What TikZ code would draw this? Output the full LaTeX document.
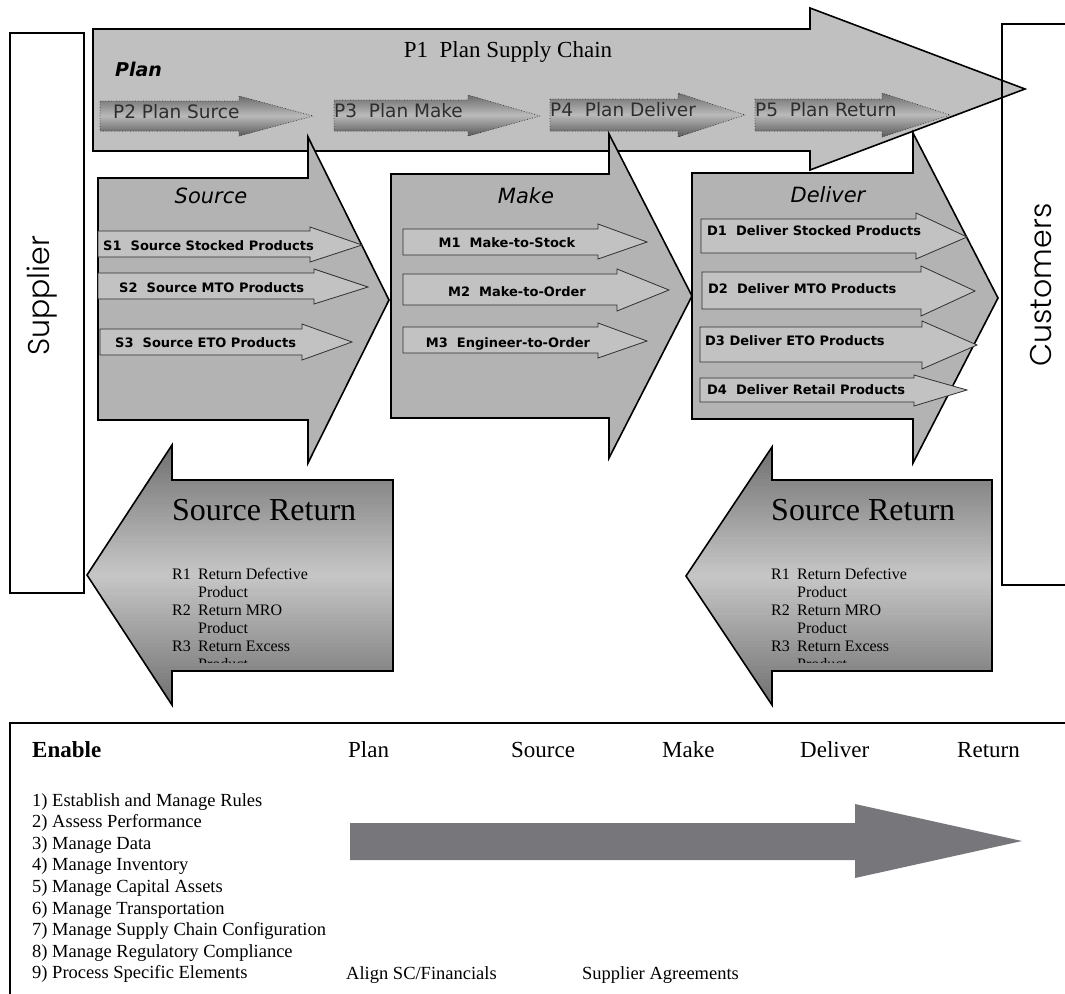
\documentclass[tikz,border=0pt]{standalone}
\usepackage{fontspec}
\setmainfont{Liberation Serif}
\newfontfamily\verd{DejaVu Sans}
\newfontfamily\geo{Poppins Light}

\definecolor{planfill}{HTML}{C0C0C0}
\definecolor{stagefill}{HTML}{B3B3B3}
\definecolor{subfill}{HTML}{C2C2C2}
\definecolor{subline}{HTML}{303030}
\definecolor{ptext}{HTML}{2E2E2E}
\definecolor{enablefill}{HTML}{77767B}
\colorlet{gtop}{black!50}
\colorlet{gmid}{black!22}
\colorlet{gbot}{black!50}

% right- or left-pointing block arrow:
% #1 style, #2 body start x, #3 body top, #4 body bottom,
% #5 head base x, #6 head top, #7 head bottom, #8 tip x, #9 tip y
\newcommand\blockarrow[9]{%
  \path[#1] (#2,#3) -- (#5,#3) -- (#5,#6) -- (#8,#9) -- (#5,#7)
    -- (#5,#4) -- (#2,#4) -- cycle;}

% vertical gtop -> gmid -> gbot gradient between two heights, in bands
\newcommand\bands[2]{%
  \pgfmathsetmacro\gstep{(#2-#1)/80}%
  \foreach \k in {0,...,79} {%
    \pgfmathtruncatemacro\gp{\k<40 ? (\k+0.5)/40*100 : (80-\k-0.5)/40*100}%
    \pgfmathsetmacro\ya{#1+\k*\gstep}%
    \pgfmathsetmacro\yb{#1+(\k+1)*\gstep+0.6}%
    \ifnum\k<40
      \fill[gmid!\gp!gtop] (0,\ya) rectangle (1065,\yb);
    \else
      \fill[gmid!\gp!gbot] (0,\ya) rectangle (1065,\yb);
    \fi}}

% block arrow filled with the band gradient, then outlined with style #1
\newcommand\gradarrow[9]{%
  \begin{scope}
    \blockarrow{clip}{#2}{#3}{#4}{#5}{#6}{#7}{#8}{#9}
    \bands{#6}{#7}
  \end{scope}
  \blockarrow{#1}{#2}{#3}{#4}{#5}{#6}{#7}{#8}{#9}}

\tikzset{
  bigarrow/.style={draw=black, line width=1.6, line join=miter},
  planarrow/.style={bigarrow, fill=planfill},
  stagearrow/.style={bigarrow, fill=stagefill},
  subarrow/.style={draw=subline, line width=0.8, fill=subfill},
  ministep/.style={draw=black!80, dotted, line width=0.7},
  framebox/.style={draw=black, line width=1.6},
  ptxt/.style={inner sep=0, anchor=base west, text=ptext,
    font=\verd\fontsize{18.5}{22}\selectfont},
  stagetitle/.style={inner sep=0, anchor=base,
    font=\verd\itshape\fontsize{21}{25}\selectfont},
  subtxt/.style={inner sep=0, font=\verd\bfseries\fontsize{13}{16}\selectfont},
  rettitle/.style={inner sep=0, anchor=base west,
    font=\fontsize{32}{38}\selectfont},
  rettxt/.style={inner sep=0, anchor=base west,
    font=\fontsize{16}{18}\selectfont},
  enhead/.style={inner sep=0, anchor=base west,
    font=\fontsize{23}{27}\selectfont},
  enitem/.style={inner sep=0, anchor=base west,
    font=\fontsize{18.5}{21}\selectfont},
  sidelabel/.style={inner sep=0, rotate=90,
    font=\geo\fontsize{30}{34}\selectfont},
}

\begin{document}
\begin{tikzpicture}[x=1pt, y=-1pt]
\useasboundingbox (0,0) rectangle (1065,993);

% Supplier box
\draw[framebox, fill=white] (10,33) rectangle (84,593);
\node[sidelabel] (supplier) at (42,296) {Supplier};

% P1 Plan Supply Chain
\blockarrow{planarrow}{93}{29}{151}{810}{8}{170}{1025}{89}
\node[inner sep=0, anchor=base, font=\fontsize{23}{27}\selectfont]
  (p1) at (508,57) {P1\ \ Plan Supply Chain};
\node[inner sep=0, anchor=base west,
  font=\verd\bfseries\itshape\fontsize{19}{23}\selectfont]
  (plan) at (115,76) {Plan};

% P2..P5 planning steps
\colorlet{gtop}{black!58}\colorlet{gmid}{black!27}\colorlet{gbot}{black!64}
\gradarrow{ministep}{100}{101}{131}{239}{96}{136}{313}{116}
\gradarrow{ministep}{334}{100}{131}{468}{95}{136}{540}{116}
\gradarrow{ministep}{550}{99}{131}{678}{93}{137}{745}{115}
\gradarrow{ministep}{755}{99}{131}{882}{93}{137}{950}{115}
\node[ptxt] (p2) at (113,118) {P2 Plan Surce};
\node[ptxt] (p3) at (334,117) {P3\ \ Plan Make};
\node[ptxt] (p4) at (550,116) {P4\ \ Plan Deliver};
\node[ptxt] (p5) at (755,116) {P5\ \ Plan Return};

% Customers box (drawn over the plan arrow)
\draw[framebox] (1070,24) -- (1002,24) -- (1002,585) -- (1070,585);
\node[sidelabel] (customers) at (1041,285) {Customers};

% Source / Make / Deliver stages
\blockarrow{stagearrow}{98}{178}{420}{308}{137}{463}{389}{300}
\blockarrow{stagearrow}{391}{174}{418}{609}{134}{458}{692}{296}
\blockarrow{stagearrow}{692}{173}{419}{913}{133}{463}{998}{298}
\node[stagetitle] (source) at (211,203) {Source};
\node[stagetitle] (make) at (526,203) {Make};
\node[stagetitle] (deliver) at (828,202) {Deliver};

% Source processes
\blockarrow{subarrow}{98}{231}{257}{310}{227}{262}{362}{245}
\blockarrow{subarrow}{98}{273}{299}{314}{269}{304}{368}{287}
\blockarrow{subarrow}{100}{329}{355}{302}{324}{360}{352}{342}
\node[subtxt, anchor=base west] (s1) at (103,250) {S1\ \ Source Stocked Products};
\node[subtxt, anchor=base west] (s2) at (119,292) {S2\ \ Source MTO Products};
\node[subtxt, anchor=base west] (s3) at (115,347) {S3\ \ Source ETO Products};

% Make processes
\blockarrow{subarrow}{403}{229}{255}{598}{224}{259}{647}{242}
\blockarrow{subarrow}{403}{274}{305}{617}{269}{311}{669}{290}
\blockarrow{subarrow}{403}{327}{353}{598}{323}{358}{647}{341}
\node[subtxt, anchor=base] (m1) at (507,247) {M1\ \ Make-to-Stock};
\node[subtxt, anchor=base] (m2) at (517,296) {M2\ \ Make-to-Order};
\node[subtxt, anchor=base] (m3) at (508,347) {M3\ \ Engineer-to-Order};

% Deliver processes
\blockarrow{subarrow}{701}{219}{253}{916}{213}{259}{967}{237}
\blockarrow{subarrow}{702}{272}{309}{921}{266}{316}{975}{291}
\blockarrow{subarrow}{700}{327}{362}{922}{321}{369}{977}{345}
\blockarrow{subarrow}{700}{378}{402}{914}{375}{406}{967}{390}
\node[subtxt, anchor=base west] (d1) at (707,235) {D1\ \ Deliver Stocked Products};
\node[subtxt, anchor=base west] (d2) at (708,293) {D2\ \ Deliver MTO Products};
\node[subtxt, anchor=base west] (d3) at (705,345) {D3 Deliver ETO Products};
\node[subtxt, anchor=base west] (d4) at (707,394) {D4\ \ Deliver Retail Products};

% Source Return arrows with their process lists
\colorlet{gtop}{black!56}\colorlet{gmid}{black!22}\colorlet{gbot}{black!56}
\gradarrow{bigarrow}{393}{480}{671}{172}{445}{705}{87}{575}
\gradarrow{bigarrow}{992}{480}{671}{772}{447}{705}{686}{576}
\foreach \side/\xl in {a/172, b/771} {
  \node[rettitle] (ret\side) at (\xl,520) {Source Return};
  \begin{scope}
    \clip (\xl-5,480) rectangle (\xl+220,662);
    \node[rettxt] (r1\side) at (\xl,579) {R1};
    \node[rettxt] (r1t\side) at (\xl+26,579) {Return Defective};
    \node[rettxt] (r1p\side) at (\xl+26,597) {Product};
    \node[rettxt] (r2\side) at (\xl,615) {R2};
    \node[rettxt] (r2t\side) at (\xl+26,615) {Return MRO};
    \node[rettxt] (r2p\side) at (\xl+26,633) {Product};
    \node[rettxt] (r3\side) at (\xl,651) {R3};
    \node[rettxt] (r3t\side) at (\xl+26,651) {Return Excess};
    \node[rettxt] (r3p\side) at (\xl+26,669) {Product};
  \end{scope}
}

% Enable panel
\draw[framebox] (10,1000) -- (10,723) -- (1070,723);
\node[enhead, font=\bfseries\fontsize{23}{27}\selectfont] (enable) at (32,757) {Enable};
\node[enhead] (hplan) at (348,757) {Plan};
\node[enhead] (hsource) at (511,757) {Source};
\node[enhead] (hmake) at (662,757) {Make};
\node[enhead] (hdeliver) at (800,757) {Deliver};
\node[enhead] (hreturn) at (957,757) {Return};
\foreach \t [count=\i] in {
  1) Establish and Manage Rules,
  2) Assess Performance,
  3) Manage Data,
  4) Manage Inventory,
  5) Manage Capital Assets,
  6) Manage Transportation,
  7) Manage Supply Chain Configuration,
  8) Manage Regulatory Compliance,
  9) Process Specific Elements}
  \node[enitem] (item\i) at (32,{806+(\i-1)*21.6}) {\t};
\node[enitem] (align) at (346,979) {Align SC/Financials};
\node[enitem] (agree) at (582,979) {Supplier Agreements};
\blockarrow{fill=enablefill}{350}{823}{860}{855}{804}{878}{1022}{841}

\end{tikzpicture}
\end{document}
